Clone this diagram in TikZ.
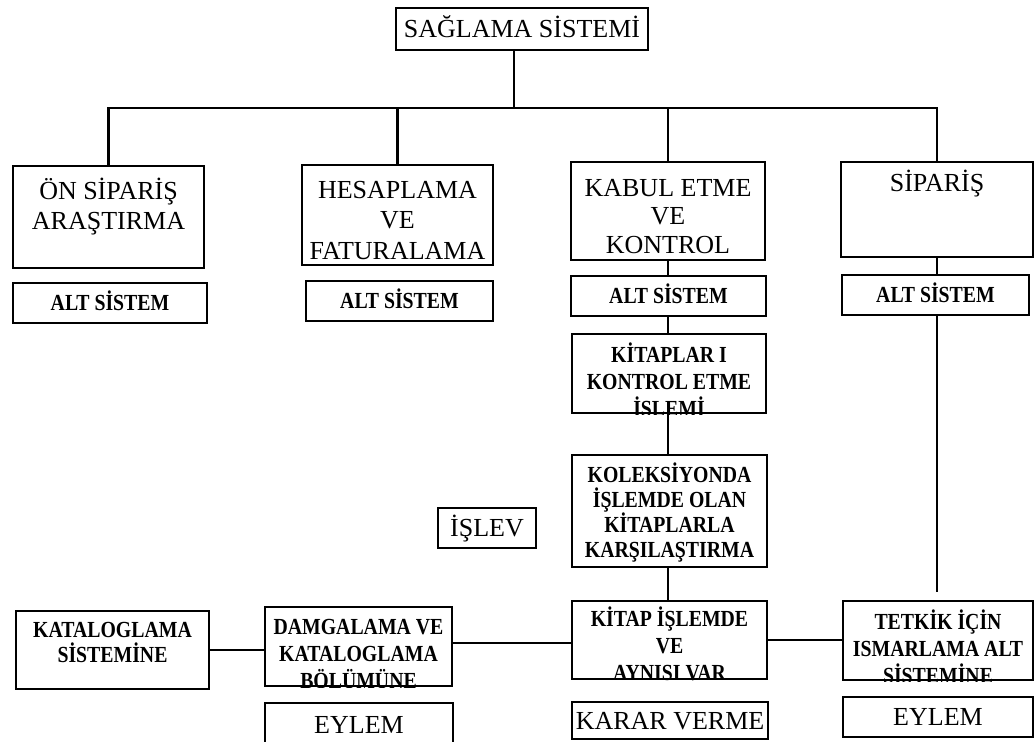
\documentclass[tikz,border=0pt]{standalone}
\usepackage{fontspec}
\setmainfont{Liberation Serif}
\newfontfamily\narrowbold[FakeStretch=0.86]{Liberation Serif Bold}
\newcommand\mystrut{\rule{0pt}{0.9em}}
\begin{document}
\begin{tikzpicture}[x=1pt,y=-1pt,
  box/.style={draw, rectangle, line width=2.8pt, inner sep=0pt},
  big/.style={font=\fontsize{26}{30.5}\selectfont},
  sm/.style={font=\narrowbold\fontsize{23}{25}\selectfont},
  smc/.style={font=\narrowbold\fontsize{23}{27}\selectfont},
  bigone/.style={big, text height=17pt, text depth=0pt},
  smone/.style={sm, text height=15pt, text depth=0pt},
  mtext/.style={anchor=north, inner sep=0pt, align=center},
  conn/.style={line width=2.6pt}]
\useasboundingbox (0,0) rectangle (1035,741);
\clip (0,0) rectangle (1035,741);

% top
\node[box, bigone, minimum width=252pt, minimum height=42pt] (top) at (522,29) {SAĞLAMA SİSTEMİ};

% first row
\node[box, minimum width=191pt, minimum height=102pt] (onsip) at (108.5,217) {};
\node[box, minimum width=191pt, minimum height=100pt] (hesap) at (397.5,215) {};
\node[box, minimum width=194pt, minimum height=98pt] (kabul) at (668,211) {};
\node[box, minimum width=192pt, minimum height=95pt] (sip) at (937,209.5) {};
\node[big, mtext, yshift=-10.9pt] (onsipT) at (onsip.north) {\mystrut ÖN SİPARİŞ\\ARAŞTIRMA};
\node[big, mtext, yshift=-10.9pt] (hesapT) at (hesap.north) {\mystrut HESAPLAMA\\VE\\FATURALAMA};
\node[big, mtext, yshift=-11.9pt, font=\fontsize{26}{28.5}\selectfont] (kabulT) at (kabul.north) {\mystrut KABUL ETME\\VE\\KONTROL};
\node[big, mtext, yshift=-6.9pt] (sipT) at (sip.north) {\mystrut SİPARİŞ};

% ALT SISTEM row
\node[box, smone, minimum width=194pt, minimum height=40pt] (alt1) at (110,303) {ALT SİSTEM};
\node[box, smone, minimum width=187pt, minimum height=40pt] (alt2) at (399.5,301) {ALT SİSTEM};
\node[box, smone, minimum width=195pt, minimum height=40pt] (alt3) at (668.5,296) {ALT SİSTEM};
\node[box, smone, minimum width=187pt, minimum height=40pt] (alt4) at (935.5,295) {ALT SİSTEM};

% middle column
\node[box, minimum width=194pt, minimum height=79pt] (kitaplar) at (669,373.5) {};
\begin{scope}
\clip (kitaplar.north west) rectangle (kitaplar.south east);
\node[smc, mtext, yshift=-8.5pt] (kitaplarT) at (kitaplar.north) {\mystrut KİTAPLAR I\\KONTROL ETME\\İŞLEMİ};
\end{scope}

\node[box, minimum width=195pt, minimum height=112pt] (kolek) at (669.5,511) {};
\node[sm, mtext, yshift=-7.5pt] (kolekT) at (kolek.north) {\mystrut KOLEKSİYONDA\\İŞLEMDE OLAN\\KİTAPLARLA\\KARŞILAŞTIRMA};

\node[box, bigone, minimum width=98pt, minimum height=40pt] (islev) at (487,528) {İŞLEV};

% bottom row
\node[box, minimum width=193pt, minimum height=78pt] (katal) at (112.5,650) {};
\node[sm, mtext, yshift=-6.5pt] (katalT) at (katal.north) {\mystrut KATALOGLAMA\\SİSTEMİNE};

\node[box, minimum width=187pt, minimum height=79pt] (damga) at (358.5,646.5) {};
\begin{scope}
\clip (damga.north west) rectangle (damga.south east);
\node[smc, mtext, yshift=-8pt] (damgaT) at (damga.north) {\mystrut DAMGALAMA VE\\KATALOGLAMA\\BÖLÜMÜNE};
\end{scope}

\node[box, minimum width=195pt, minimum height=78pt] (kitap) at (669.5,640) {};
\begin{scope}
\clip (kitap.north west) rectangle (kitap.south east);
\node[smc, mtext, yshift=-6pt] (kitapT) at (kitap.north) {\mystrut KİTAP İŞLEMDE\\VE\\AYNISI VAR};
\end{scope}

\node[box, minimum width=190pt, minimum height=79pt] (tetkik) at (938,640.5) {};
\begin{scope}
\clip (tetkik.north west) rectangle (tetkik.south east);
\node[smc, mtext, yshift=-8.5pt] (tetkikT) at (tetkik.north) {\mystrut TETKİK İÇİN\\ISMARLAMA ALT\\SİSTEMİNE};
\end{scope}

% labels at the bottom
\node[box, bigone, minimum width=188pt, minimum height=44pt] (eylem1) at (359,725) {EYLEM};
\node[box, bigone, minimum width=196pt, minimum height=37pt] (karar) at (670,720.5) {KARAR VERME};
\node[box, bigone, minimum width=190pt, minimum height=40pt] (eylem2) at (938,717) {EYLEM};

% connectors
\coordinate (bus) at (514,108);
\draw[conn] (top.south -| bus) -- (bus);
\draw[conn] (onsip.north) -- (onsip.north |- bus) -- (sip.north |- bus) -- (sip.north);
\draw[conn] (hesap.north) -- (hesap.north |- bus);
\draw[conn] (kabul.north) -- (kabul.north |- bus);

\draw[conn] (kabul.south) -- (kabul.south |- alt3.north);
\draw[conn] (alt3.south -| kabul.south) -- (kabul.south |- kitaplar.north);
\draw[conn] (kitaplar.south -| kabul.south) -- (kabul.south |- kolek.north);
\draw[conn] (kolek.south -| kabul.south) -- (kabul.south |- kitap.north);

\draw[conn] (sip.south) -- (sip.south |- alt4.north);
\draw[conn, shorten >=8pt] (alt4.south -| sip.south) -- (sip.south |- tetkik.north);

\draw[conn] (katal.east) -- (katal.east -| damga.west);
\draw[conn] (damga.east |- 0,643) -- (kitap.west |- 0,643);
\draw[conn] (kitap.east) -- (kitap.east -| tetkik.west);
\end{tikzpicture}
\end{document}
